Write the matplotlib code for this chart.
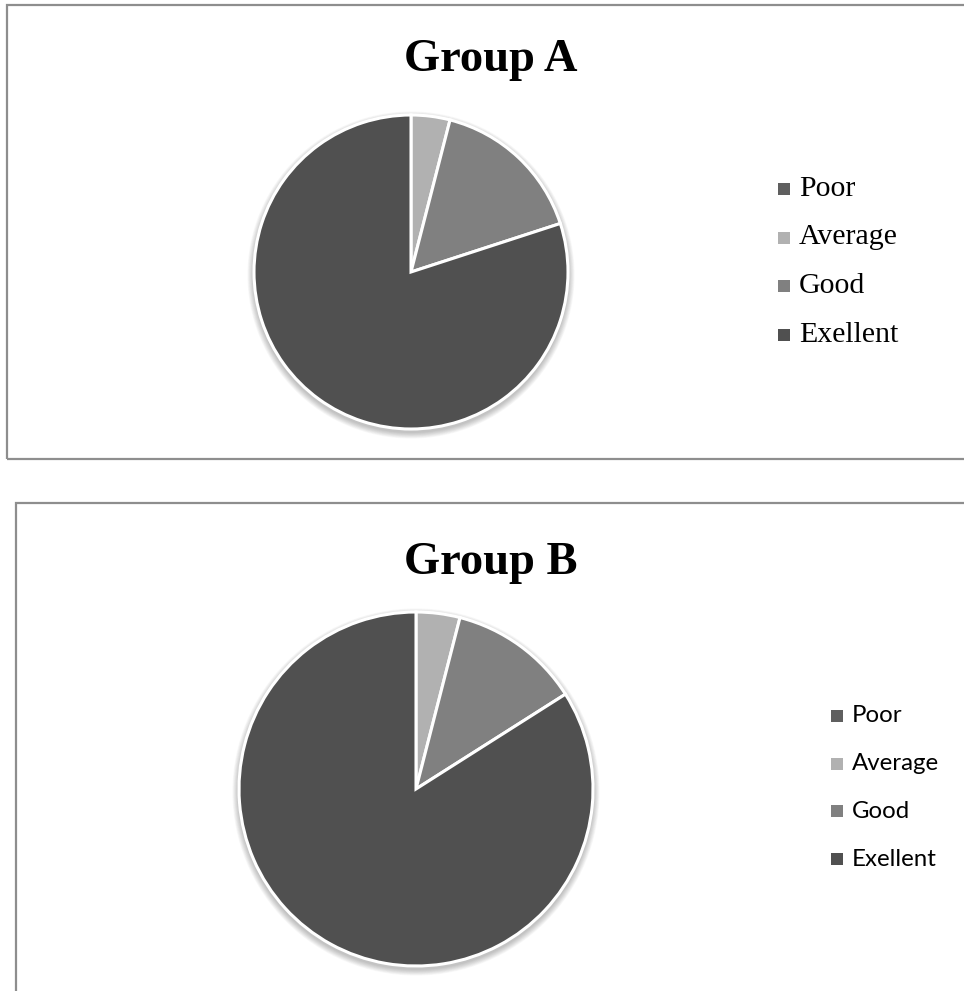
import matplotlib.pyplot as plt
from matplotlib.patches import Rectangle, Circle

# Survey results per group (counts out of 25)
categories = ["Poor", "Average", "Good", "Exellent"]
group_a = [0, 1, 4, 20]
group_b = [0, 1, 3, 21]
colors = ["#5f5f5f", "#b1b1b1", "#808080", "#505050"]

W, H = 964, 991

fig = plt.figure(figsize=(W / 100, H / 100), dpi=100)
ax = fig.add_axes([0, 0, 1, 1])


def py(y):
    # pixel row (from top) to data y
    return H - y


def panel(box, title, center, radius, values, leg_x, leg_y, leg_step, font, title_base):
    x0, y0, x1, y1 = box
    ax.add_patch(Rectangle((x0, py(y1)), x1 - x0, y1 - y0, fill=False,
                           edgecolor="#8e8e8e", linewidth=1.6, zorder=1))
    ax.text(491, py(title_base), title, ha="center", va="baseline",
            family="Liberation Serif", fontweight="bold", fontsize=33.5)

    cx, cy = center[0], py(center[1])
    # soft shadow under the pie
    for k in range(9):
        ax.add_patch(Circle((cx, cy - 3), radius + 1 + k * 0.7,
                            color="black", alpha=0.028, lw=0, zorder=2))
    ax.pie(values, colors=colors, startangle=90, counterclock=False,
           center=(cx, cy), radius=radius, frame=True,
           wedgeprops=dict(edgecolor="white", linewidth=2.2, zorder=3))

    for i, (name, c) in enumerate(zip(categories, colors)):
        ry = py(leg_y + i * leg_step)
        ax.add_patch(Rectangle((leg_x, ry - 6), 12, 12, color=c, lw=0))
        ax.text(leg_x + 21, ry, name, ha="left", va="center", **font)


panel((7, 5, 975, 459), "Group A", (411, 272), 157, group_a,
      778, 189, 48.5, dict(family="Liberation Serif", fontsize=21.5), 71)
panel((16, 503, 975, 1000), "Group B", (416, 789), 177, group_b,
      831, 716, 47.7, dict(family="Lato", fontsize=17.3), 574)

ax.set_xlim(0, W)
ax.set_ylim(0, H)
ax.set_aspect("auto")
ax.axis("off")

fig.savefig("out.png", dpi=100, facecolor="white")
